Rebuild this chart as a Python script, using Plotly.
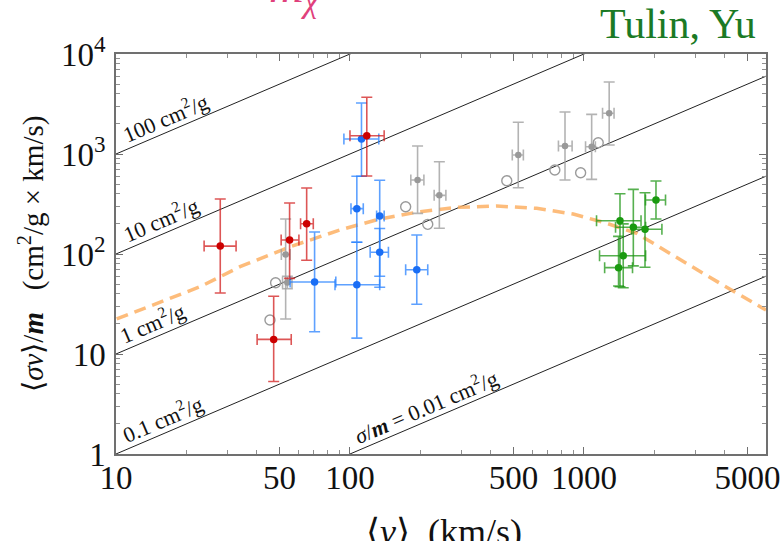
import numpy as np
import plotly.graph_objects as go

# ---- data -------------------------------------------------------------
# red systems
red_v = [27.9, 55.2, 65.3, 47.2, 118]
red_v_lo = [23.8, 50.8, 61.5, 40.1, 100]
red_v_hi = [32.6, 60.5, 69.7, 56.1, 140]
red_y = [120, 138, 201, 14.0, 1520]
red_y_lo = [40.7, 57, 86.5, 5.3, 603]
red_y_hi = [355, 324, 457, 37.8, 3700]

# blue systems
blue_v = [112, 107, 134, 134, 70.6, 107, 193]
blue_v_lo = [94.2, 101, 130, 122, 55.5, 86.3, 173]
blue_v_hi = [132.8, 114, 140, 146, 87, 134, 215]
blue_y = [1413, 284, 240, 104, 52.5, 49.3, 69.7]
blue_y_lo = [600, 131, 46.5, 60, 16.7, 14.4, 31.4]
blue_y_hi = [3236, 600, 546, 180, 166, 131, 155]

# gray systems with error bars
gray_v = [53.1, 54.0, 194.5, 241, 524, 830, 1079, 1282]
gray_v_lo = [50.9, 51.5, 182, 229, 494, 778, 1016, 1201]
gray_v_hi = [55.5, 56.5, 207, 257, 551, 890, 1119, 1345]
gray_y = [99, 52, 550, 386, 977, 1202, 1183, 2553]
gray_y_lo = [22.4, 45, 255, 181, 460, 550, 558, 1230]
gray_y_hi = [224, 60, 1202, 837, 2075, 2630, 2493, 5248]

# gray open circles
open_v = [45.5, 48.1, 173, 215, 468, 751, 968, 1151]
open_y = [21.9, 51.6, 297, 198, 541, 692, 650, 1297]

# green clusters
green_v = [1426, 1626, 1824, 2032, 1472, 1406]
green_v_lo = [1132, 1365, 1600, 1833, 1166, 1226]
green_v_hi = [1754, 1835, 2154, 2232, 1835, 1613]
green_y = [215, 185, 176.6, 347, 96, 73]
green_y_lo = [47, 76, 73.6, 224, 46, 47.9]
green_y_hi = [401, 443, 410, 537, 200, 150]

# best-fit curve
fit_v = [10.07, 14.9, 22.9, 33.9, 55.4, 90.6, 134, 199, 286, 424, 628,
         900, 1250, 1679, 2570, 3450, 4495, 6000]
fit_y = [22.4, 32.1, 47.1, 74.7, 118, 174, 224, 265, 293, 302, 286,
         251, 203, 161, 87.7, 58.5, 40.7, 27.5]

# constant cross-section lines (cm^2/g)
sigma_vals = [100, 10, 1, 0.1, 0.01]
sigma_labels = ["100 cm<sup>2</sup>/g", "10 cm<sup>2</sup>/g", "1 cm<sup>2</sup>/g",
                "0.1 cm<sup>2</sup>/g",
                "<i>σ</i>/<b><i>m</i></b> = 0.01 cm<sup>2</sup>/g"]
sigma_label_v = [17.0, 16.2, 15.0, 16.6, 220]

x_ticks = [10, 50, 100, 500, 1000, 5000]
y_ticks = [1, 10, 100, 1000, 10000]
y_ticktext = ["1", "10", "10<sup>2</sup>", "10<sup>3</sup>", "10<sup>4</sup>"]

X_RANGE = (10, 6000)
Y_RANGE = (1, 10000)
SERIF = "Liberation Serif, Times New Roman, serif"
INK = "#111111"

fig = go.Figure()

# diagonal lines of constant sigma/m
line_v = np.array([1.0, 1e5])
for s in sigma_vals:
    fig.add_trace(go.Scatter(x=line_v, y=s * line_v, mode="lines",
                             line=dict(color="#222222", width=1),
                             hoverinfo="skip", showlegend=False))

for s, txt, lv in zip(sigma_vals, sigma_labels, sigma_label_v):
    fig.add_annotation(x=np.log10(lv), y=np.log10(s * lv), text=txt,
                       showarrow=False, textangle=-23.1,
                       xshift=-5, yshift=14,
                       font=dict(family=SERIF, size=22, color=INK))

# fit curve
fig.add_trace(go.Scatter(x=fit_v, y=fit_y, mode="lines",
                         line=dict(color="rgba(253,176,100,0.85)", width=3.5,
                                   dash="12px,7px"),
                         hoverinfo="skip", showlegend=False))


def err_trace(v, vlo, vhi, y, ylo, yhi, color, ecolor, size=7.5, ewidth=1.6):
    v = np.array(v); y = np.array(y)
    return go.Scatter(
        x=v, y=y, mode="markers",
        marker=dict(color=color, size=size),
        error_x=dict(type="data", symmetric=False,
                     array=np.array(vhi) - v, arrayminus=v - np.array(vlo),
                     color=ecolor, thickness=ewidth, width=5.5),
        error_y=dict(type="data", symmetric=False,
                     array=np.array(yhi) - y, arrayminus=y - np.array(ylo),
                     color=ecolor, thickness=ewidth, width=5.5),
        showlegend=False, hoverinfo="skip")


fig.add_trace(go.Scatter(x=open_v, y=open_y, mode="markers",
                         marker=dict(symbol="circle-open", size=10,
                                     color="#9a9a9a", line=dict(width=1.4)),
                         showlegend=False, hoverinfo="skip"))
fig.add_trace(err_trace(gray_v, gray_v_lo, gray_v_hi, gray_y, gray_y_lo, gray_y_hi,
                        "#999999", "rgba(160,160,160,0.8)", size=6.5))
fig.add_trace(err_trace(blue_v, blue_v_lo, blue_v_hi, blue_y, blue_y_lo, blue_y_hi,
                        "#1a6ef5", "rgba(40,130,255,0.75)"))
fig.add_trace(err_trace(red_v, red_v_lo, red_v_hi, red_y, red_y_lo, red_y_hi,
                        "#cc0000", "rgba(210,30,30,0.75)"))
fig.add_trace(err_trace(green_v, green_v_lo, green_v_hi, green_y, green_y_lo, green_y_hi,
                        "#1a9a10", "rgba(30,150,20,0.75)"))

x_minor = [m * 10 ** d for d in range(1, 4) for m in range(1, 10)
           if m * 10 ** d not in x_ticks and m * 10 ** d <= 6000]
y_minor = [m * 10 ** d for d in range(0, 4) for m in range(2, 10)]

axis_common = dict(type="log", showgrid=False, zeroline=False,
                   showline=True, linecolor="#707070", linewidth=1.5,
                   mirror="ticks", ticks="inside", ticklen=7,
                   tickcolor="#707070", tickwidth=1,
                   automargin=False, ticklabeloverflow="allow",
                   tickfont=dict(family=SERIF, size=33, color=INK))

fig.update_xaxes(**axis_common,
                 range=[np.log10(X_RANGE[0]), np.log10(X_RANGE[1])],
                 tickmode="array", tickvals=x_ticks,
                 ticktext=[str(t) for t in x_ticks],
                 ticklabelstandoff=-6,
                 minor=dict(tickmode="array", tickvals=x_minor, ticks="inside",
                            ticklen=4, tickcolor="#909090"))
fig.update_yaxes(**axis_common,
                 range=[np.log10(Y_RANGE[0]), np.log10(Y_RANGE[1])],
                 tickmode="array", tickvals=y_ticks, ticktext=y_ticktext,
                 ticklabelstandoff=2,
                 minor=dict(tickmode="array", tickvals=y_minor, ticks="inside",
                            ticklen=4, tickcolor="#909090"))

# axis titles
fig.add_annotation(xref="paper", yref="paper", x=0.505, y=-0.195,
                   xanchor="center", yanchor="middle", showarrow=False,
                   text="⟨<i>v</i>⟩\u00a0\u00a0(km/s)",
                   font=dict(family=SERIF, size=36, color=INK))
fig.add_annotation(xref="paper", yref="paper", x=-0.131, y=0.5,
                   xanchor="center", yanchor="middle", showarrow=False,
                   textangle=-90,
                   text="⟨<i>σv</i>⟩/<b><i>m</i></b>\u00a0\u00a0\u00a0(cm<sup>2</sup>/g × km/s)",
                   font=dict(family=SERIF, size=29, color=INK))

fig.add_annotation(xref="paper", yref="paper", x=0.988, y=1.012,
                   xanchor="right", yanchor="bottom", text="Tulin, Yu",
                   showarrow=False,
                   font=dict(family=SERIF, size=42, color="#1b7a25"))
fig.add_annotation(xref="paper", yref="paper", x=0.317, y=1.0825,
                   xanchor="right", yanchor="bottom",
                   text="<i>m<sub>χ</sub></i>", showarrow=False,
                   font=dict(family=SERIF, size=48, color="#e0407c"))

fig.update_layout(width=780, height=541,
                  margin=dict(l=116, r=14, t=54, b=87),
                  paper_bgcolor="white", plot_bgcolor="white")

fig.write_html("out.html")
